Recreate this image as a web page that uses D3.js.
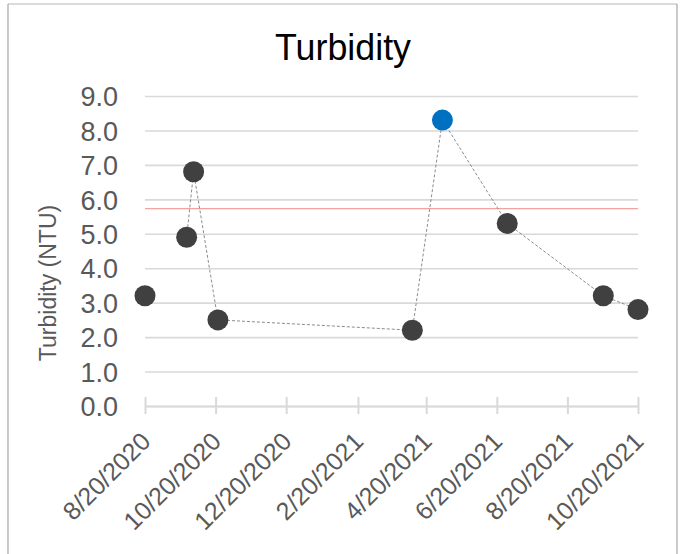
<!DOCTYPE html>
<html>
<head>
<meta charset="utf-8">
<script src="https://cdn.jsdelivr.net/npm/d3@7"></script>
<style>
  html, body { margin: 0; padding: 0; background: #fff; }
  svg { display: block; font-family: "Liberation Sans", Arial, sans-serif; }
</style>
</head>
<body>
<svg id="chart" width="687" height="554"></svg>
<script>
// Sample dates and turbidity readings (NTU)
const sampleDates = ["2020-08-20", "2020-09-25", "2020-10-01", "2020-10-22", "2021-04-08",
                     "2021-05-04", "2021-06-29", "2021-09-20", "2021-10-20"];
const turbidity = [3.2, 4.9, 6.8, 2.5, 2.2, 8.3, 5.3, 3.2, 2.8];
// The highest reading is drawn in blue
const highlightIndex = 5;
// First reading stands alone; the dashed trace joins the rest
const traceStart = 1;
// Reference level line (NTU)
const referenceLevel = 5.73;

const yTicks = [0, 1, 2, 3, 4, 5, 6, 7, 8, 9];
const xTickDates = ["2020-08-20", "2020-10-20", "2020-12-20", "2021-02-20", "2021-04-20",
                    "2021-06-20", "2021-08-20", "2021-10-20"];
const xTickLabels = ["8/20/2020", "10/20/2020", "12/20/2020", "2/20/2021", "4/20/2021",
                     "6/20/2021", "8/20/2021", "10/20/2021"];

const parse = d3.utcParse("%Y-%m-%d");
const svg = d3.select("#chart");

const plot = { left: 145, right: 638, top: 96, bottom: 406 };

const x = d3.scaleUtc()
  .domain([parse(xTickDates[0]), parse(xTickDates[xTickDates.length - 1])])
  .range([plot.left, plot.right]);
const y = d3.scaleLinear().domain([0, 9]).range([plot.bottom, plot.top]);

// Frame
svg.append("line").attr("x1", 8).attr("x2", 677).attr("y1", 4).attr("y2", 4)
  .attr("stroke", "#cfcfcf").attr("stroke-width", 1.5);
svg.append("line").attr("x1", 8).attr("x2", 8).attr("y1", 4).attr("y2", 554)
  .attr("stroke", "#a6a6a6").attr("stroke-width", 1.2);
svg.append("line").attr("x1", 677).attr("x2", 677).attr("y1", 4).attr("y2", 554)
  .attr("stroke", "#a6a6a6").attr("stroke-width", 1.2);

// Title
svg.append("text")
  .attr("x", 343).attr("y", 60)
  .attr("text-anchor", "middle")
  .attr("font-size", 37)
  .attr("fill", "#000")
  .attr("textLength", 136).attr("lengthAdjust", "spacingAndGlyphs")
  .text("Turbidity");

// Horizontal gridlines via the y axis
const yAxis = d3.axisLeft(y).tickValues(yTicks).tickFormat(d3.format(".1f"))
  .tickSize(-(plot.right - plot.left)).tickPadding(27);
const gy = svg.append("g").attr("transform", `translate(${plot.left},0)`).call(yAxis);
gy.select(".domain").remove();
gy.selectAll(".tick line").attr("stroke", "#d9d9d9").attr("stroke-width", 1.6);
gy.selectAll(".tick text")
  .attr("font-size", 27).attr("fill", "#595959")
  .attr("font-family", "'Liberation Sans', Arial, sans-serif")
  .attr("dy", "0.36em");

// Date axis with cross tick marks
const xAxis = d3.axisBottom(x).tickValues(xTickDates.map(parse)).tickSize(0).tickFormat("");
const gx = svg.append("g").attr("transform", `translate(0,${plot.bottom})`).call(xAxis);
gx.select(".domain").attr("stroke", "#d9d9d9").attr("stroke-width", 2);
gx.selectAll(".tick line").attr("y1", -9).attr("y2", 8)
  .attr("stroke", "#d9d9d9").attr("stroke-width", 2);

// Rotated date labels
svg.append("g").selectAll("text")
  .data(xTickDates)
  .join("text")
  .attr("transform", (d) => `translate(${x(parse(d)) + 7},${plot.bottom + 37}) rotate(-45)`)
  .attr("text-anchor", "end")
  .attr("font-size", 25)
  .attr("fill", "#595959")
  .text((d, i) => xTickLabels[i]);

// Y axis title
svg.append("text")
  .attr("transform", `translate(56,283) rotate(-90)`)
  .attr("text-anchor", "middle")
  .attr("font-size", 23)
  .attr("fill", "#595959")
  .text("Turbidity (NTU)");

// Reference level
svg.append("line")
  .attr("x1", plot.left).attr("x2", plot.right)
  .attr("y1", y(referenceLevel)).attr("y2", y(referenceLevel))
  .attr("stroke", "#f0a49c").attr("stroke-width", 1.2);

const points = sampleDates.map((d, i) => ({ date: parse(d), value: turbidity[i], i }));

// Dashed trace
const line = d3.line().x((d) => x(d.date)).y((d) => y(d.value));
svg.append("path")
  .datum(points.slice(traceStart))
  .attr("d", line)
  .attr("fill", "none")
  .attr("stroke", "#8c8c8c")
  .attr("stroke-width", 1)
  .attr("stroke-dasharray", "3,2");

// Markers
svg.append("g").selectAll("circle")
  .data(points)
  .join("circle")
  .attr("cx", (d) => x(d.date))
  .attr("cy", (d) => y(d.value))
  .attr("r", 10.5)
  .attr("fill", (d) => d.i === highlightIndex ? "#0070c0" : "#404040");
</script>
</body>
</html>
